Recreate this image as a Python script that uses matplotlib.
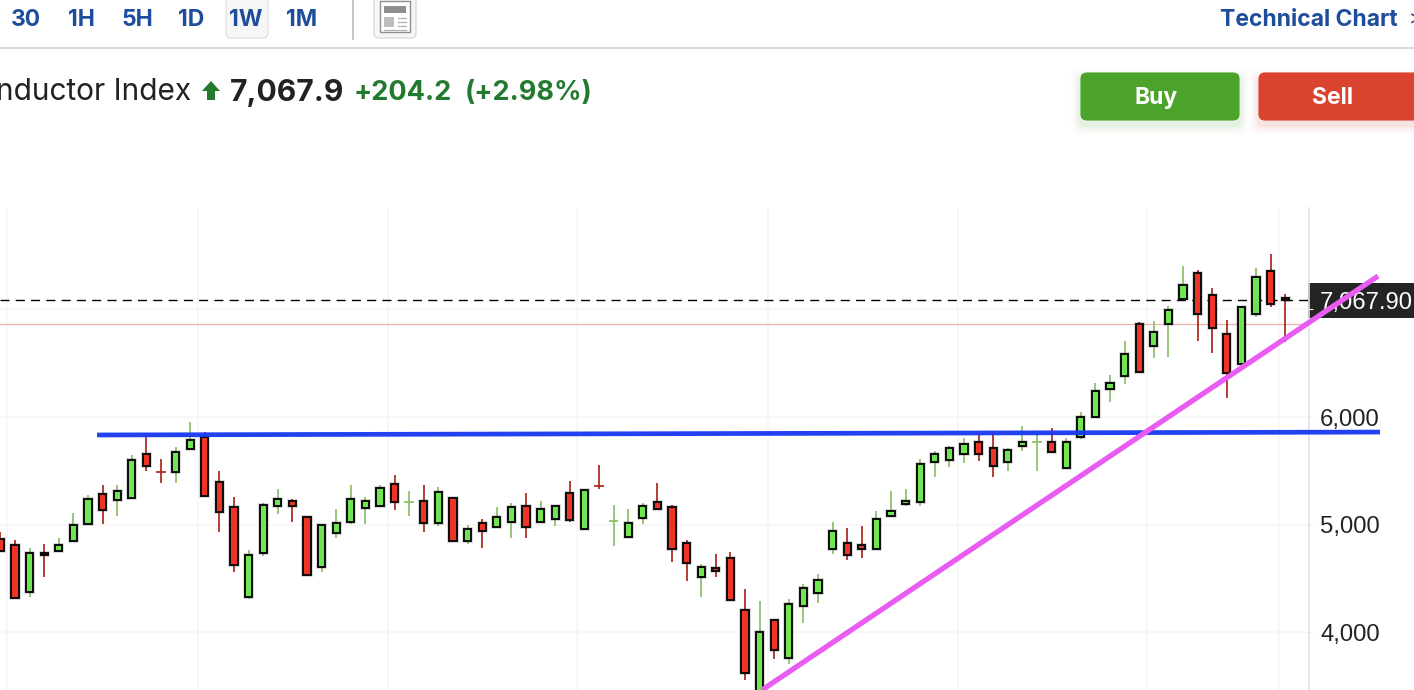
import numpy as np
import matplotlib
matplotlib.use("Agg")
import matplotlib.pyplot as plt
from matplotlib.patches import FancyBboxPatch, Rectangle, Polygon

# ---------- data ----------
directions = ("RRGRGGGRGG" "RRGGRRRGGG" "RRGGGGGRGR" "GRGRGGRGGR" "GRGGGRRRGR"
              "RRGRGGGGRR" "GGGGGGGRRG" "GGRGGGGGRG" "GGRRRGGRR")
highs = [4928,4856,4779,4816,4872,5110,5275,5368,5368,5644,
         5814,5607,5718,5953,5858,5498,5256,4763,5200,5330,
         5237,5067,4996,5144,5368,5256,5368,5461,5312,5368,
         5352,5249,4998,5054,5166,5203,5293,5219,5175,5402,
         5324,5551,5182,5144,5200,5383,5182,4853,4630,4726,
         4744,4398,4286,4115,4305,4450,4540,5021,4965,4984,
         5129,5312,5330,5607,5681,5733,5807,5842,5851,5714,
         5916,5839,5895,5802,6044,6319,6391,6704,6886,6893,
         7035,7404,7364,7197,6905,7026,7383,7513,7144]
body_top = [4865,4810,4738,4738,4812,4996,5235,5287,5309,5600,
            5656,5491,5672,5783,5817,5398,5160,4719,5179,5235,
            5216,5067,4996,5012,5235,5216,5342,5380,5212,5216,
            5305,5249,4956,5011,5067,5160,5175,5142,5175,5290,
            5324,5361,5033,5011,5175,5212,5160,4831,4608,4593,
            4686,4202,4003,4115,4261,4407,4481,4940,4831,4812,
            5049,5123,5216,5563,5656,5709,5746,5765,5709,5690,
            5765,5765,5765,5765,6003,6242,6313,6589,6862,6790,
            6992,7230,7342,7137,6772,7026,7305,7361,7104]
body_bottom = [4751,4314,4370,4714,4751,4844,5008,5138,5231,5247,
               5542,5491,5486,5705,5265,5119,4624,4329,4732,5172,
               5172,4533,4608,4917,5026,5154,5175,5209,5212,5011,
               5011,4844,4844,4937,4974,5026,4974,5026,5049,5042,
               4956,5361,5033,4881,5063,5140,4770,4642,4515,4568,
               4295,3616,3415,3836,3761,4240,4366,4770,4714,4770,
               4770,5082,5191,5209,5579,5597,5653,5653,5542,5579,
               5728,5765,5672,5523,5817,6003,6258,6384,6421,6660,
               6862,7100,6955,6825,6406,6496,6955,7048,7085]
lows = [4751,4314,4329,4509,4751,4844,5008,5005,5079,5247,
        5501,5389,5389,5705,5265,4933,4561,4307,4710,5095,
        5021,4533,4561,4877,5005,5005,5175,5132,5077,4930,
        4986,4844,4822,4784,4974,4877,4877,5026,4986,5023,
        4956,5333,4803,4881,5005,5140,4654,4472,4326,4509,
        4295,3554,3380,3752,3703,4087,4273,4729,4673,4691,
        4770,5082,5170,5170,5445,5538,5575,5594,5445,5501,
        5684,5501,5672,5523,5795,6003,6142,6307,6421,6546,
        6561,7100,6710,6598,6179,6496,6933,7026,6695]
y_ticks = [4000, 5000, 6000, 7000]
y_tick_labels = ["4,000", "5,000", "6,000", ""]
x_grid = [-0.55, 12.53, 25.55, 38.5, 51.58, 64.59, 77.53, 86.58]
last_line = 7088
prev_close = 6865
support_x = [5.62, 93.49]
support_y = [5833, 5860]
trend_x = [51.16, 93.36]
trend_y = [3461, 7311]
intervals = ["30", "1H", "5H", "1D", "1W", "1M"]
interval_px = [26, 81, 137, 191, 246, 302]

# ---------- figure ----------
W, H = 1414, 690
plt.rcParams["font.family"] = ["Inter", "DejaVu Sans"]
fig = plt.figure(figsize=(W / 100, H / 100), dpi=100, facecolor="white")

# page furniture, in pixel coordinates
page = fig.add_axes([0, 0, 1, 1], zorder=0)
page.set_xlim(0, W)
page.set_ylim(H, 0)
page.axis("off")

BLUE = "#1d4d9b"
GREEN = "#227a2e"
page.plot([0, W], [48, 48], color="#dcdcdc", lw=1.5)
page.plot([352.5, 352.5], [0, 39], color="#b4b4b4", lw=1.1)


def button(x, y, w, h, face, edge, radius=5, z=2):
    page.add_patch(FancyBboxPatch((x + radius, y + radius), w - 2 * radius, h - 2 * radius,
                                  boxstyle=f"round,pad={radius},rounding_size={radius}",
                                  facecolor=face, edgecolor=edge, lw=0.8, zorder=z,
                                  mutation_aspect=1))


button(226, -8, 42, 46, "#f6f6f6", "#dddddd")
button(374, -8, 42, 46, "#f6f6f6", "#d5d5d5")
page.add_patch(Rectangle((380, 1), 30, 31, fc="white", ec="#8f8f8f", lw=1.0, zorder=3))
page.add_patch(Rectangle((384, 6), 22, 7, fc="#8f8f8f", ec="none", zorder=4))
page.add_patch(Rectangle((384, 17), 10, 10, fc="#bdbdbd", ec="none", zorder=4))
for yy in (18, 22, 26):
    page.plot([398, 406], [yy, yy], color="#b0b0b0", lw=0.9, zorder=4)
page.plot([384, 406], [30, 30], color="#b0b0b0", lw=0.9, zorder=4)

for lab, px in zip(intervals, interval_px):
    page.text(px, 20, lab, color=BLUE, fontsize=16.5, fontweight="bold",
              ha="center", va="center", zorder=5)
page.text(1398, 20, "Technical Chart", color=BLUE, fontsize=16.5, fontweight="bold",
          ha="right", va="center")
page.text(1409, 19, ">", color=BLUE, fontsize=14, ha="left", va="center")

page.text(191, 92, "nductor Index", color="#222222", fontsize=21.5, ha="right", va="center")
page.add_patch(Polygon([(211, 81), (220, 91), (215, 91), (215, 100), (207, 100), (207, 91), (202, 91)],
                       fc=GREEN, ec="none"))
page.text(230, 93, "7,067.9", color="#222222", fontsize=21.6, fontweight="bold", ha="left", va="center")
page.text(354, 92.5, "+204.2", color=GREEN, fontsize=19.5, fontweight="bold", ha="left", va="center")
page.text(465, 92.5, "(+2.98%)", color=GREEN, fontsize=19.5, fontweight="bold", ha="left", va="center")

for x0, w0, col, lab in [(1081, 158, "#4ca32c", "Buy"), (1259, 170, "#d9432f", "Sell")]:
    for grow, alpha in [(10, 0.012), (8, 0.018), (6, 0.025), (4, 0.035), (2, 0.05)]:
        page.add_patch(FancyBboxPatch((x0 + 8 - grow, 81 + 5 - grow), w0 - 16 + 2 * grow, 31 + 2 * grow,
                                      boxstyle="round,pad=8,rounding_size=8",
                                      fc=col, ec="none", alpha=alpha, zorder=1))
    button(x0, 73, w0, 47, col, col, radius=6)
    page.text(1156 if lab == "Buy" else 1333, 98, lab, color="white", fontsize=16.5,
              fontweight="bold", ha="center", va="center", zorder=5)

page.add_patch(Rectangle((1308, 283), 106, 35, fc="#242424", ec="none", zorder=2))
page.text(1320, 303, "7,067.90", color="white", fontsize=17.2, family="Liberation Sans",
          ha="left", va="center", zorder=3)

# chart area
left, right, top, bottom = 0, 1309, 208, 690
ax = fig.add_axes([left / W, 1 - bottom / H, (right - left) / W, (bottom - top) / H], zorder=2)
ax.patch.set_alpha(0)
ax.set_xlim(-1.027, 88.63)
ax.set_ylim(3461, 7944)
for s in ("top", "left", "bottom"):
    ax.spines[s].set_visible(False)
ax.spines["right"].set_color("#dfe3e8")
ax.spines["right"].set_linewidth(1.2)
ax.yaxis.tick_right()
ax.set_yticks(y_ticks, y_tick_labels, fontsize=17.2, color="#222222", family="Liberation Sans")
ax.tick_params(axis="y", length=3, color="#eeeeee", pad=5)
for t in ax.get_yticklabels():
    t.set_y(t.get_position()[1])
ax.set_xticks(x_grid, [""] * len(x_grid))
ax.tick_params(axis="x", length=0)
ax.grid(True, color="#f5f5f5", lw=1.1, zorder=0)
ax.set_axisbelow(True)

x = np.arange(-1, len(highs) - 1)
hi, lo = np.array(highs), np.array(lows)
bt, bb = np.array(body_top), np.array(body_bottom)
up = np.array([d == "G" for d in directions])
WICK_G, WICK_R = "#86bc62", "#a81e12"
FILL_G, FILL_R = "#6fe64f", "#ee3424"

ax.axhline(prev_close, color="#eeb0ae", lw=0.9, zorder=1)
ax.axhline(last_line, color="black", lw=1.0, dashes=(6.5, 4.5), zorder=2)

ax.vlines(x[up], lo[up], hi[up], color=WICK_G, lw=1.2, zorder=3)
ax.vlines(x[~up], lo[~up], hi[~up], color=WICK_R, lw=1.2, zorder=3)

doji = bt == bb
solid = ~doji
for mask, fill in [(up & solid, FILL_G), (~up & solid, FILL_R)]:
    ax.bar(x[mask], (bt - bb)[mask], bottom=bb[mask], width=0.5, color="none",
           edgecolor="#000000", linewidth=2.6, alpha=0.18, zorder=3.5)
    ax.bar(x[mask], (bt - bb)[mask], bottom=bb[mask], width=0.5, color=fill,
           edgecolor="#0a0a0a", linewidth=1.4, zorder=4)
ax.hlines(bt[doji & up], x[doji & up] - 0.33, x[doji & up] + 0.33, color=WICK_G, lw=1.2, zorder=4)
ax.hlines(bt[doji & ~up], x[doji & ~up] - 0.33, x[doji & ~up] + 0.33, color=WICK_R, lw=1.2, zorder=4)

ax.plot(support_x, support_y, color="#1638f2", lw=3.4, solid_capstyle="butt", clip_on=False, zorder=6, alpha=0.95)
ax.plot(trend_x, trend_y, color="#e95cf2", lw=3.8, solid_capstyle="butt", clip_on=False, zorder=7)

fig.savefig("out.png", dpi=100)
